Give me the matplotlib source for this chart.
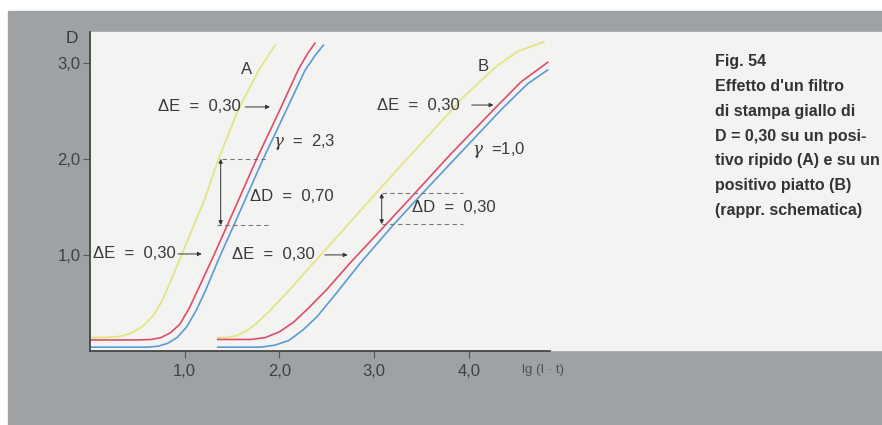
import numpy as np
import matplotlib
matplotlib.use('Agg')
import matplotlib.pyplot as plt
from matplotlib.patches import Rectangle

plt.rcParams['font.family'] = ['Liberation Sans', 'DejaVu Sans']
plt.rcParams['mathtext.fontset'] = 'dejavuserif'

# curve A (ripido, gamma 2.3)
a_yellow_x = [0.0, 0.15, 0.30, 0.42, 0.55, 0.67, 0.76, 0.85, 0.95, 1.05, 1.20, 1.35, 1.56, 1.78, 1.96]
a_yellow_d = [0.14, 0.14, 0.15, 0.18, 0.25, 0.37, 0.52, 0.72, 0.96, 1.20, 1.55, 1.98, 2.50, 2.92, 3.19]
a_red_x = [0.0, 0.50, 0.65, 0.75, 0.85, 0.95, 1.05, 1.15, 1.30, 1.50, 1.76, 2.00, 2.20, 2.30, 2.38]
a_red_d = [0.115, 0.115, 0.12, 0.14, 0.19, 0.28, 0.45, 0.66, 0.98, 1.42, 2.00, 2.50, 2.93, 3.10, 3.21]
a_blue_x = [0.0, 0.60, 0.72, 0.82, 0.92, 1.02, 1.12, 1.22, 1.36, 1.56, 1.82, 2.06, 2.27, 2.38, 2.47]
a_blue_d = [0.04, 0.04, 0.05, 0.08, 0.14, 0.25, 0.42, 0.63, 0.96, 1.40, 1.98, 2.48, 2.92, 3.08, 3.19]

# curve B (piatto, gamma 1.0)
b_yellow_x = [1.34, 1.45, 1.55, 1.65, 1.75, 1.90, 2.10, 2.40, 2.80, 3.20, 3.60, 3.95, 4.30, 4.52, 4.80]
b_yellow_d = [0.14, 0.14, 0.16, 0.21, 0.28, 0.42, 0.63, 0.96, 1.40, 1.84, 2.27, 2.65, 2.97, 3.12, 3.22]
b_red_x = [1.34, 1.70, 1.85, 2.00, 2.15, 2.30, 2.50, 2.75, 3.10, 3.40, 3.80, 4.25, 4.55, 4.84]
b_red_d = [0.12, 0.12, 0.14, 0.20, 0.30, 0.44, 0.64, 0.92, 1.29, 1.61, 2.04, 2.50, 2.80, 3.01]
b_blue_x = [1.34, 1.80, 1.95, 2.10, 2.25, 2.40, 2.60, 2.85, 3.20, 3.50, 3.90, 4.35, 4.62, 4.84]
b_blue_d = [0.04, 0.04, 0.06, 0.11, 0.22, 0.36, 0.60, 0.91, 1.31, 1.63, 2.05, 2.52, 2.78, 2.93]

x_ticks = [1.0, 2.0, 3.0, 4.0]
y_ticks = [1.0, 2.0, 3.0]
tick_labels = ['1,0', '2,0', '3,0', '4,0']

caption = ("Fig. 54\nEffetto d'un filtro\ndi stampa giallo di\nD = 0,30 su un posi-\n"
           "tivo ripido (A) e su un\npositivo piatto (B)\n(rappr. schematica)")

W, H = 882, 425
gray = '#9ea2a4'
panel = '#f3f3f1'
ink = '#3a3a3a'
yellow = '#e4e47a'
red = '#de4c6a'
blue = '#5b9bd5'

fig = plt.figure(figsize=(W/100, H/100), dpi=100)
fig.patch.set_facecolor('white')
fig.patches.append(Rectangle((8/W, 0), 1, 1-11/H, transform=fig.transFigure, color=gray, zorder=-10))
fig.patches.append(Rectangle((90/W, 1-350/H), 1, (350-32)/H, transform=fig.transFigure, color=panel, zorder=-9))

ax = fig.add_axes([90/W, 1-351/H, (550-90)/W, (351-32)/H])
ax.set_facecolor('none')
ax.set_zorder(5)
ax.set_xlim(0, 4.857)
ax.set_ylim(0, 3.32)

lw = 1.2
for xs, ds, c in [(a_yellow_x, a_yellow_d, yellow), (b_yellow_x, b_yellow_d, yellow),
                  (a_red_x, a_red_d, red), (b_red_x, b_red_d, red),
                  (a_blue_x, a_blue_d, blue), (b_blue_x, b_blue_d, blue)]:
    ax.plot(xs, ds, color=c, lw=lw, solid_capstyle='butt')

for s in ['top', 'right']:
    ax.spines[s].set_visible(False)
for s in ['left', 'bottom']:
    ax.spines[s].set_color('#444444')
    ax.spines[s].set_linewidth(1.3)

ax.set_xticks(x_ticks)
ax.set_xticklabels(tick_labels)
ax.set_yticks(y_ticks)
ax.set_yticklabels(tick_labels[:3])
ax.tick_params(axis='both', direction='out', length=5, width=0.8, color='#555555',
               labelsize=12, labelcolor='#404040')
ax.tick_params(axis='x', pad=4)
ax.tick_params(axis='y', pad=2)

ax.text(-0.19, 3.25, 'D', fontsize=12.5, color=ink, ha='center', va='center', clip_on=False)
ax.text(4.56, -0.2, 'lg (I · t)', fontsize=9.5, color='#505050', ha='left', va='center', clip_on=False)

fs = 12
ax.text(1.655, 2.93, 'A', fontsize=fs, color=ink, ha='center', va='center')
ax.text(4.15, 2.96, 'B', fontsize=fs, color=ink, ha='center', va='center')

arrow = dict(arrowstyle='-|>', lw=0.7, color='#333333', mutation_scale=6, shrinkA=0, shrinkB=0)
arrow2 = dict(arrowstyle='<|-|>', lw=0.7, color='#333333', mutation_scale=6, shrinkA=0, shrinkB=0)

# delta E labels with arrows
for tx, ty, x0, x1 in [(0.72, 2.54, 1.64, 1.90), (0.03, 1.01, 0.93, 1.18),
                       (1.50, 1.00, 2.48, 2.72), (3.03, 2.56, 4.03, 4.26)]:
    ax.text(tx, ty, 'ΔE  =  0,30', fontsize=fs, color=ink, ha='left', va='center')
    ax.annotate('', xy=(x1, ty), xytext=(x0, ty), arrowprops=arrow)

ax.text(1.93, 2.17, r'$\gamma$  =  2,3', fontsize=fs, color=ink, ha='left', va='center')
ax.text(4.03, 2.09, r'$\gamma$  =1,0', fontsize=fs, color=ink, ha='left', va='center')
ax.text(1.69, 1.61, 'ΔD  =  0,70', fontsize=fs, color=ink, ha='left', va='center')
ax.text(3.40, 1.49, 'ΔD  =  0,30', fontsize=fs, color=ink, ha='left', va='center')

dash = dict(color='#777777', lw=0.8, ls=(0, (4, 3)))
ax.plot([1.39, 1.88], [2.0, 2.0], **dash)
ax.plot([1.34, 1.88], [1.31, 1.31], **dash)
ax.annotate('', xy=(1.38, 1.31), xytext=(1.38, 2.0), arrowprops=arrow2)
ax.plot([3.08, 3.94], [1.64, 1.64], **dash)
ax.plot([3.08, 3.94], [1.32, 1.32], **dash)
ax.annotate('', xy=(3.08, 1.32), xytext=(3.08, 1.64), arrowprops=arrow2)

fig.text(715/W, 1-54/H, caption, fontsize=11.5, fontweight='bold', color='#333333',
         ha='left', va='top', linespacing=1.82)

fig.savefig('out.png', dpi=100)
